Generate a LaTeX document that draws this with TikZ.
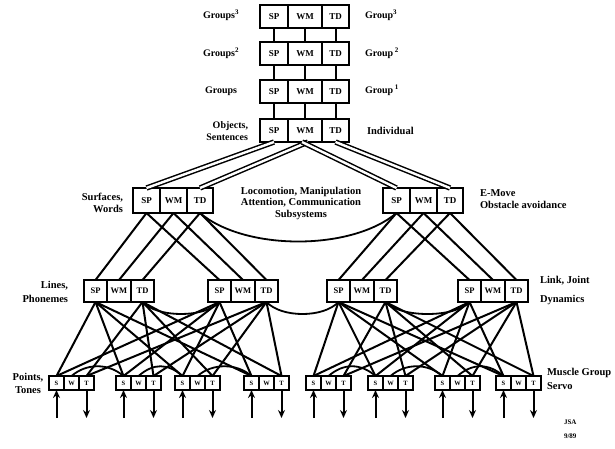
\documentclass[tikz,border=0pt]{standalone}
\usepackage{fontspec}
\setmainfont{Liberation Serif}
\usetikzlibrary{arrows.meta}

\tikzset{
  cell/.style={draw, line width=1.2pt, fill=white, inner sep=0pt, outer sep=0pt,
    anchor=north west, font=\bfseries\fontsize{8.5}{8.5}\selectfont},
  frame/.style={line width=2.4pt},
  link/.style={line width=2pt},
  dlink/.style={line width=1.5pt, double=white, double distance=2.4pt},
  peer/.style={line width=1.8pt},
  sensor/.style={line width=2pt, -{Stealth[length=8pt,width=7pt]}},
  lab/.style={font=\bfseries\fontsize{10.5}{11.5}\selectfont, inner sep=0pt, outer sep=0pt},
}

% labels of the three cells of a module
\newcommand\cellA{SP}
\newcommand\cellB{WM}
\newcommand\cellC{TD}
% module of three cells: name, left x, top y, three widths, height
\newcommand\threecells[7]{%
  \node[cell, minimum width=#4pt, minimum height=#7pt] (#1-a) at (#2,#3) {\cellA};
  \node[cell, minimum width=#5pt, minimum height=#7pt] (#1-b) at (#1-a.north east) {\cellB};
  \node[cell, minimum width=#6pt, minimum height=#7pt] (#1-c) at (#1-b.north east) {\cellC};
  \draw[frame] (#1-a.north west) rectangle (#1-c.south east);
}

\begin{document}
\begin{tikzpicture}[x=1pt,y=-1pt]
\useasboundingbox (0,0) rectangle (615,448);

% ---- upper levels ----
\begin{scope}[cell/.append style={font=\bfseries\fontsize{9}{9}\selectfont}]
\threecells{r1}{260}{5}{28}{34}{27}{23}
\threecells{r2}{260}{42}{28}{34}{27}{23}
\threecells{r3}{260}{80}{28}{34}{27}{23}
\threecells{r4}{260}{119}{28}{34}{27}{23}
% subsystems
\threecells{sl}{133}{188}{27}{27}{26}{25}
\threecells{sr}{383}{188}{27}{27}{26}{25}
\end{scope}

% ---- lines / link level ----
\threecells{la}{84}{280}{23}{24}{23}{22}
\threecells{lb}{208}{280}{23}{24}{23}{22}
\threecells{lc}{327}{280}{23}{24}{23}{22}
\threecells{ld}{458}{280}{23}{24}{23}{22}

% ---- servo level ----
\renewcommand\cellA{S}
\renewcommand\cellB{W}
\renewcommand\cellC{T}
\begin{scope}[cell/.append style={font=\bfseries\fontsize{6.5}{6.5}\selectfont}]
\threecells{p1}{49}{376}{15}{15}{15}{14}
\threecells{p2}{116}{376}{15}{15}{15}{14}
\threecells{p3}{175}{376}{15}{15}{15}{14}
\threecells{p4}{244}{376}{15}{15}{15}{14}
\threecells{p5}{306}{376}{15}{15}{15}{14}
\threecells{p6}{368}{376}{15}{15}{15}{14}
\threecells{p7}{435}{376}{15}{15}{15}{14}
\threecells{p8}{496}{376}{15}{15}{15}{14}
\end{scope}

% ---- connectors between the group levels ----
\foreach \u/\v in {r1/r2,r2/r3,r3/r4}
  \foreach \c in {a,b,c}
    \draw[link] (\u-\c.south) -- (\v-\c.north);

% individual level to the two subsystems
\draw[dlink] (r4-a.south) -- (sl-a.north);
\draw[dlink] ([xshift=3pt]r4-b.south) -- (sl-c.north);
\draw[dlink] ([xshift=-3pt]r4-b.south) -- (sr-a.north);
\draw[dlink] (r4-c.south) -- (sr-c.north);

% subsystems to the lines / link level
\foreach \c in {a,b,c} {
  \draw[link] (sl-\c.south) -- (la-\c.north);
  \draw[link] (sl-\c.south) -- (lb-\c.north);
  \draw[link] (sr-\c.south) -- (lc-\c.north);
  \draw[link] (sr-\c.south) -- (ld-\c.north);
}

% lines / link level to the servo level
\foreach \u in {la,lb}
  \foreach \p in {p1,p2,p3,p4} {
    \draw[link] (\u-a.south) -- (\p-a.north);
    \draw[link] (\u-c.south) -- (\p-c.north);
  }
\foreach \u in {lc,ld}
  \foreach \p in {p5,p6,p7,p8} {
    \draw[link] (\u-a.south) -- (\p-a.north);
    \draw[link] (\u-c.south) -- (\p-c.north);
  }

% peer communication arcs
\draw[peer] (sl-c.south) .. controls +(45,38) and +(-45,38) .. (sr-a.south);
\draw[peer] (la-c.south) .. controls +(15,16) and +(-15,16) .. (lb-a.south);
\draw[peer] (lb-c.south) .. controls +(15,16) and +(-15,16) .. (lc-a.south);
\draw[peer] (lc-c.south) .. controls +(15,16) and +(-15,16) .. (ld-a.south);
\foreach \p/\q in {p1/p2,p2/p3,p3/p4,p5/p6,p6/p7,p7/p8}
  \draw[peer] (\p-b.north) .. controls +(15,-13) and +(-15,-13) .. (\q-a.north);

% sensory input and actuator output
\foreach \p in {p1,p2,p3,p4,p5,p6,p7,p8} {
  \coordinate (\p-in) at ([yshift=-28pt]\p-a.south);
  \coordinate (\p-out) at ([yshift=-28pt]\p-c.south);
  \draw[sensor] (\p-in) -- (\p-a.south);
  \draw[sensor] (\p-c.south) -- (\p-out);
}

% ---- level labels (base anchor = last line) ----
\begin{scope}[lab/.append style={font=\bfseries\fontsize{10}{12}\selectfont}]
\node[lab, anchor=base west] (g3l) at (203,18) {Groups\textsuperscript{3}};
\node[lab, anchor=base west] (g3r) at (365,18) {Group\textsuperscript{3}};
\node[lab, anchor=base west] (g2l) at (203,56) {Groups\textsuperscript{2}};
\node[lab, anchor=base west] (g2r) at (365,56) {Group\,\textsuperscript{2}};
\node[lab, anchor=base west] (g1l) at (205,93) {Groups};
\node[lab, anchor=base west] (g1r) at (365,93) {Group\,\textsuperscript{1}};
\end{scope}
\node[lab, align=right, anchor=base east, font=\bfseries\fontsize{10}{12}\selectfont]
  (objl) at (248,140) {Objects,\\Sentences};
\node[lab, anchor=base west] (indl) at (367,134) {Individual};
\node[lab, align=right, anchor=base east] (surl) at (123,212) {Surfaces,\\Words};
\node[lab, align=center, anchor=base] (subl) at (301,217)
  {Locomotion, Manipulation\\Attention, Communication\\Subsystems};
\node[lab, align=left, anchor=base west] (emvl) at (480,208) {E-Move\\Obstacle avoidance};
\node[lab, align=right, anchor=base east, font=\bfseries\fontsize{10.5}{14}\selectfont]
  (linl) at (68,302) {Lines,\\Phonemes};
\node[lab, align=left, anchor=base west, font=\bfseries\fontsize{10.5}{19}\selectfont]
  (lnkl) at (540,302) {Link, Joint\\Dynamics};
\node[lab, align=center, anchor=base, font=\bfseries\fontsize{10.5}{13}\selectfont]
  (ptsl) at (28,393) {Points,\\Tones};
\node[lab, align=left, anchor=base west, font=\bfseries\fontsize{10.5}{14}\selectfont]
  (musl) at (547,389) {Muscle Group\\Servo};
\node[lab, align=left, anchor=base west, font=\bfseries\fontsize{7}{14}\selectfont]
  (sign) at (564,438) {JSA\\9/89};
\end{tikzpicture}
\end{document}
